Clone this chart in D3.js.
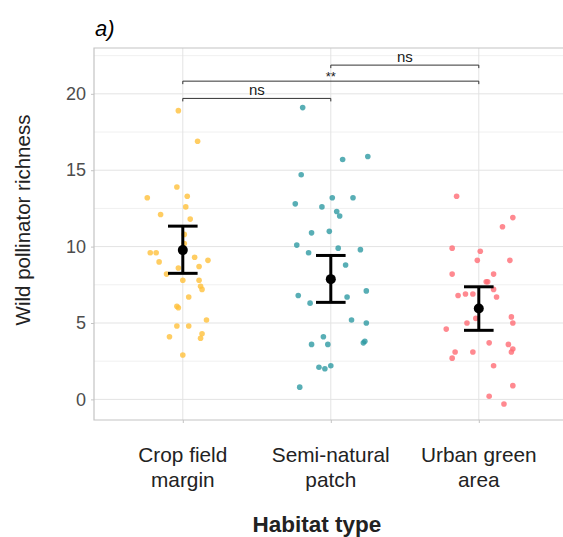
<!DOCTYPE html>
<html>
<head>
<meta charset="UTF-8">
<title></title>
<style>
  * {padding:0; margin:0;}
  body {background:#fff;}
  svg text {font-family:"Liberation Sans", Arial, sans-serif;}
</style>
</head>
<body>
<script src="https://d3js.org/d3.v7.min.js"></script>
<svg id="chart" width="563" height="537"></svg>
<script>
// categories and their two-line labels
var habitats = ["Crop field margin", "Semi-natural patch", "Urban green area"];
var habitatLines = [["Crop field", "margin"], ["Semi-natural", "patch"], ["Urban green", "area"]];
var colours = ["#FFC13B", "#2E9AA3", "#FF6B74"];

// richness per site and horizontal jitter (category units)
var cropValues = [18.9, 16.9, 13.9, 13.2, 13.3, 12.6, 12.1, 11.8, 10.8, 10.2, 9.6, 9.6, 9.3, 9.1, 9.0, 8.7, 8.6, 8.2, 7.8, 7.8, 7.4, 7.2, 6.7, 6.1, 6.0, 5.2, 4.8, 4.8, 4.3, 4.0, 4.1, 2.9];
var cropJitter = [-0.03, 0.1, -0.04, -0.24, 0.03, 0.02, -0.15, 0.05, 0.01, 0.01, -0.22, -0.18, 0.08, 0.17, -0.16, 0.11, -0.03, -0.11, 0.0, 0.11, 0.12, 0.13, 0.04, -0.04, -0.03, 0.16, -0.04, 0.04, 0.13, 0.12, -0.09, 0.0];
var semiValues = [19.1, 15.7, 15.9, 14.7, 12.8, 13.2, 13.2, 12.6, 12.3, 12.0, 10.9, 11.0, 10.1, 9.6, 9.9, 9.8, 8.8, 7.1, 6.8, 6.3, 6.7, 5.2, 5.0, 4.1, 3.6, 3.6, 3.7, 3.8, 2.1, 2.0, 2.2, 0.8];
var semiJitter = [-0.19, 0.08, 0.25, -0.2, -0.24, 0.01, 0.15, -0.06, 0.04, 0.06, -0.13, -0.01, -0.23, -0.15, 0.05, 0.2, 0.1, 0.24, -0.22, -0.14, 0.11, 0.14, 0.24, -0.05, -0.13, -0.02, 0.22, 0.23, -0.08, -0.04, 0.0, -0.21];
var urbanValues = [13.3, 11.9, 11.3, 9.9, 9.7, 9.1, 9.1, 8.2, 8.2, 7.7, 7.7, 7.2, 6.8, 6.9, 6.9, 6.7, 5.3, 5.4, 5.0, 5.0, 4.6, 3.7, 3.6, 3.3, 3.1, 3.1, 3.1, 2.7, 2.2, 0.9, 0.2, -0.3];
var urbanJitter = [-0.15, 0.23, 0.16, -0.18, 0.01, -0.01, 0.21, -0.18, 0.1, 0.05, 0.06, 0.1, -0.14, -0.09, -0.04, 0.12, -0.02, 0.22, 0.23, -0.08, -0.22, 0.07, 0.2, 0.23, 0.22, -0.16, -0.04, -0.18, 0.1, 0.23, 0.07, 0.17];

// mean and 95% CI per habitat
var means = [9.77, 7.87, 5.95];
var ciLow = [8.25, 6.35, 4.52];
var ciHigh = [11.34, 9.42, 7.37];

// pairwise comparisons
var compFrom = [0, 0, 1];
var compTo = [1, 2, 2];
var compY = [19.7, 20.83, 21.88];
var compLabel = ["ns", "**", "ns"];

var yTicks = [0, 5, 10, 15, 20];
var yMinor = [-2.5, 2.5, 7.5, 12.5, 17.5, 22.5];

var svg = d3.select("#chart");
var pLeft = 94, pTop = 48, pBottom = 420, pRight = 567.6;

var x = d3.scaleLinear().domain([0.4, 3.6]).range([pLeft, pRight]);
var y = d3.scaleLinear().domain([-1.35, 23]).range([pBottom, pTop]);

svg.append("clipPath").attr("id", "panel")
  .append("rect").attr("x", pLeft).attr("y", pTop).attr("width", pRight - pLeft).attr("height", pBottom - pTop);

var panel = svg.append("g").attr("clip-path", "url(#panel)");

// grid
panel.selectAll(".minor").data(yMinor).enter().append("line")
  .attr("x1", pLeft).attr("x2", pRight)
  .attr("y1", function(d){ return y(d); }).attr("y2", function(d){ return y(d); })
  .attr("stroke", "#f0f0f0").attr("stroke-width", 1);
panel.selectAll(".major").data(yTicks).enter().append("line")
  .attr("x1", pLeft).attr("x2", pRight)
  .attr("y1", function(d){ return y(d); }).attr("y2", function(d){ return y(d); })
  .attr("stroke", "#e3e3e3").attr("stroke-width", 1);
panel.selectAll(".vmajor").data(habitats).enter().append("line")
  .attr("x1", function(d, i){ return x(i + 1); }).attr("x2", function(d, i){ return x(i + 1); })
  .attr("y1", pTop).attr("y2", pBottom)
  .attr("stroke", "#e3e3e3").attr("stroke-width", 1);

// points
var groups = [[cropValues, cropJitter], [semiValues, semiJitter], [urbanValues, urbanJitter]];
groups.forEach(function(g, gi){
  var pts = g[0].map(function(v, k){ return {v: v, j: g[1][k]}; });
  panel.append("g").selectAll("circle").data(pts).enter().append("circle")
    .attr("cx", function(d){ return x(gi + 1 + d.j); })
    .attr("cy", function(d){ return y(d.v); })
    .attr("r", 2.8)
    .attr("fill", colours[gi])
    .attr("fill-opacity", 0.8);
});

// error bars
var eb = panel.append("g");
habitats.forEach(function(h, i){
  var cx = x(i + 1);
  eb.append("line").attr("x1", cx).attr("x2", cx).attr("y1", y(ciLow[i])).attr("y2", y(ciHigh[i]))
    .attr("stroke", "#000").attr("stroke-width", 3);
  [ciLow[i], ciHigh[i]].forEach(function(v){
    eb.append("line").attr("x1", x(i + 0.9)).attr("x2", x(i + 1.1)).attr("y1", y(v)).attr("y2", y(v))
      .attr("stroke", "#000").attr("stroke-width", 3);
  });
  eb.append("circle").attr("cx", cx).attr("cy", y(means[i])).attr("r", 5).attr("fill", "#000");
});

// significance brackets
compLabel.forEach(function(lab, k){
  var x1 = x(compFrom[k] + 1), x2 = x(compTo[k] + 1), yy = y(compY[k]);
  panel.append("path")
    .attr("d", "M" + x1 + "," + (yy + 3) + "V" + yy + "H" + x2 + "V" + (yy + 3))
    .attr("fill", "none").attr("stroke", "#333").attr("stroke-width", 1);
  panel.append("text")
    .attr("x", (x1 + x2) / 2).attr("y", lab == "**" ? yy - 0.5 : yy - 3)
    .attr("text-anchor", "middle")
    .attr("font-size", lab == "**" ? 13 : 15)
    .attr("fill", "#1a1a1a")
    .text(lab);
});

// panel border
svg.append("path")
  .attr("d", "M" + pRight + "," + pTop + "H" + pLeft + "V" + pBottom + "H" + pRight)
  .attr("fill", "none").attr("stroke", "#c4c4c4").attr("stroke-width", 1.2);

// y axis
var yAxis = svg.append("g").attr("transform", "translate(" + pLeft + ",0)")
  .call(d3.axisLeft(y).tickValues(yTicks).tickSize(3).tickPadding(5));
yAxis.select(".domain").remove();
yAxis.selectAll(".tick line").attr("stroke", "#c4c4c4");
yAxis.selectAll(".tick text").attr("font-size", 18).attr("fill", "#4d4d4d")
  .attr("font-family", "Liberation Sans, Arial, sans-serif");

// x axis
var xAxis = svg.append("g").attr("transform", "translate(0," + pBottom + ")")
  .call(d3.axisBottom(x).tickValues([1, 2, 3]).tickSize(3).tickFormat(""));
xAxis.select(".domain").remove();
xAxis.selectAll(".tick line").attr("stroke", "#c4c4c4");

habitatLines.forEach(function(lines, i){
  var t = svg.append("text")
    .attr("x", x(i + 1)).attr("y", 462)
    .attr("text-anchor", "middle").attr("font-size", 20.8).attr("fill", "#222");
  lines.forEach(function(l, li){
    t.append("tspan").attr("x", x(i + 1)).attr("dy", li == 0 ? 0 : 25).text(l);
  });
});

// titles
svg.append("text")
  .attr("transform", "translate(30,220) rotate(-90)")
  .attr("text-anchor", "middle").attr("font-size", 20.5).attr("fill", "#222")
  .text("Wild pollinator richness");

svg.append("text")
  .attr("x", 317).attr("y", 532)
  .attr("text-anchor", "middle").attr("font-size", 22.5).attr("font-weight", "bold").attr("fill", "#222")
  .text("Habitat type");

svg.append("text")
  .attr("x", 95).attr("y", 35.5)
  .attr("font-size", 22).attr("font-style", "italic").attr("fill", "#000")
  .text("a)");
</script>
</body>
</html>
